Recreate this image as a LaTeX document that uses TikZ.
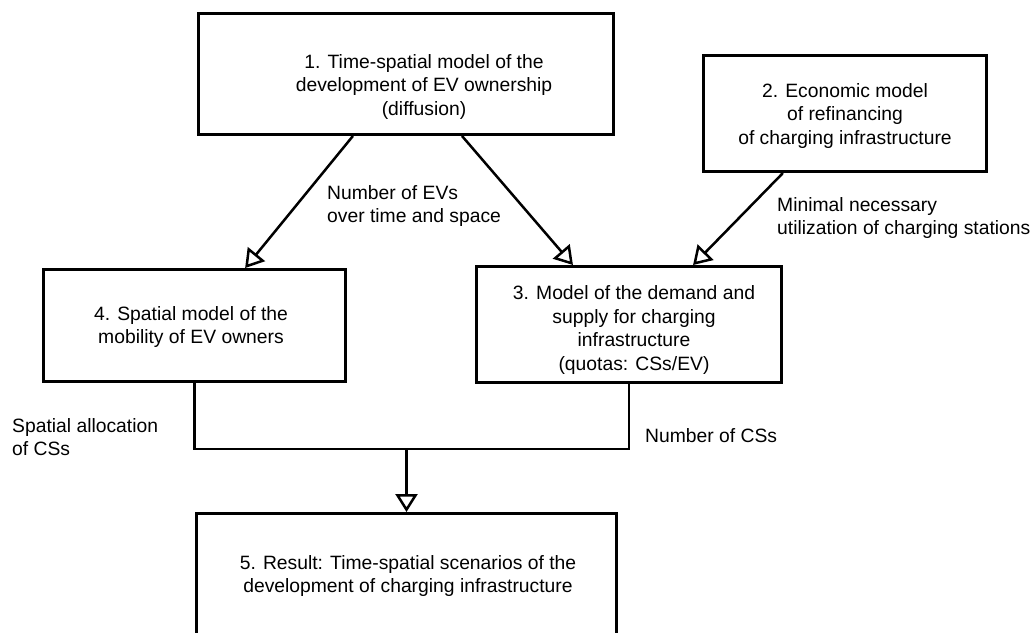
\documentclass[tikz,border=0pt]{standalone}
\usepackage{fontspec}
\setmainfont{Liberation Sans}
\usetikzlibrary{arrows.meta,calc}
\begin{document}
\begin{tikzpicture}[x=1pt,y=-1pt,
  box/.style={draw, line width=3pt, rectangle, inner sep=0pt},
  txt/.style={align=center, inner sep=0pt, font=\fontsize{19.3}{23.5}\selectfont},
  lbl/.style={align=left, anchor=west, inner sep=0pt, font=\fontsize{19.3}{23.5}\selectfont},
  arr/.style={line width=2.5pt, -{Triangle[open, length=18pt, width=22pt]}},
  conn/.style={line width=2.5pt}]
\clip (0,0) rectangle (1032,632);
\fill[white] (0,0) rectangle (1032,632);
% boxes
\node[box, minimum width=415pt, minimum height=121pt] (b1) at (406,74) {};
\node[box, minimum width=283pt, minimum height=116pt] (b2) at (845,113.5) {};
\node[box, minimum width=302pt, minimum height=112pt] (b4) at (194.5,325.5) {};
\node[box, minimum width=305pt, minimum height=116pt] (b3) at (629,324.5) {};
\node[box, minimum width=420pt, minimum height=125pt] (b5) at (406.5,576) {};
% box texts
\node[txt] (t1) at (424,87) {1. Time-spatial model of the\\development of EV ownership\\(diffusion)};
\node[txt] (t2) at (845,116) {2. Economic model\\of refinancing\\of charging infrastructure};
\node[txt] (t4) at (191,327) {4. Spatial model of the\\mobility of EV owners};
\node[txt] (t3) at (634,330) {3. Model of the demand and\\supply for charging\\infrastructure\\(quotas: CSs/EV)};
\node[txt] (t5) at (408,576) {5. Result: Time-spatial scenarios of the\\development of charging infrastructure};
% labels
\node[lbl] (l1) at (327,206) {Number of EVs\\over time and space};
\node[lbl] (l2) at (777,218) {Minimal necessary\\utilization of charging stations};
\node[lbl] (l3) at (12,437) {Spatial allocation\\of CSs};
\node[lbl] (l4) at (645,436) {Number of CSs};
% arrows
\draw[arr] ($(b1.south west)!0.373!(b1.south east)$) -- ($(b4.north west)!0.666!(b4.north east)$);
\draw[arr] ($(b1.south west)!0.634!(b1.south east)$) -- ($(b3.north west)!0.318!(b3.north east)$);
\draw[arr] ($(b2.south west)!0.283!(b2.south east)$) -- ($(b3.north west)!0.708!(b3.north east)$);
% merge connector
\coordinate (j) at (406.5,449);
\draw[conn] (b4.south) -- (b4.south |- j) -- (b3.south |- j) -- (b3.south);
\draw[arr] (j) -- (b5.north);
\end{tikzpicture}
\end{document}
